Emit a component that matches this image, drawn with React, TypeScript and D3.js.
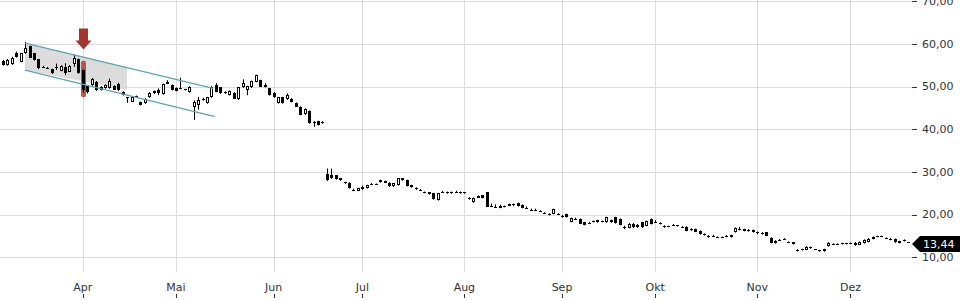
import React from 'react';
import * as d3 from 'd3';

// ---- data -------------------------------------------------------------
const FIRST_DAY = '2024-03-05';
const LAST_DAY = '2024-12-19';
const HOLIDAYS = ['2024-03-29', '2024-04-01', '2024-05-01'];

// candles per month: [open, high, low, close]
const mar: number[][] = [
  [56.0, 56.3, 54.9, 55.1], [55.0, 56.5, 54.9, 56.3], [55.2, 57.0, 55.1, 56.75], [57.8, 58.2, 56.8, 57.0],
  [55.8, 57.9, 55.7, 57.8], [57.8, 60.5, 57.7, 59.1], [59.5, 59.6, 56.7, 56.8], [57.8, 57.9, 56.1, 56.2],
  [56.4, 56.5, 54.1, 54.25], [54.7, 54.9, 54.5, 54.6], [54.45, 54.6, 54.3, 54.35], [54.1, 54.2, 53.0, 53.1],
  [54.6, 55.4, 53.9, 54.7], [53.7, 55.0, 53.6, 54.8], [54.5, 55.5, 52.7, 53.2], [53.5, 55.0, 53.4, 54.8],
  [55.4, 57.5, 54.6, 56.6], [56.4, 56.6, 53.0, 53.1],
];
const apr: number[][] = [
  [53.9, 54.0, 48.6, 49.2], [50.2, 50.3, 48.4, 48.8], [50.35, 52.0, 50.2, 51.9], [51.1, 51.3, 49.0, 49.2],
  [49.96, 50.1, 49.1, 49.2], [49.6, 50.5, 49.5, 50.35], [49.6, 51.9, 49.5, 51.3], [50.2, 50.3, 49.2, 49.3],
  [50.7, 50.9, 49.0, 49.2], [48.8, 48.9, 47.9, 48.0], [47.5, 47.5, 46.2, 47.4], [46.45, 47.7, 46.4, 47.6],
  [47.5, 47.9, 47.4, 47.8], [46.4, 46.5, 45.6, 45.7], [46.1, 47.3, 46.0, 47.2], [47.5, 48.7, 47.4, 48.55],
  [48.4, 49.1, 48.3, 49.0], [49.2, 49.6, 48.0, 48.4], [48.2, 50.7, 48.1, 50.6], [51.1, 51.5, 50.6, 50.7],
  [50.35, 50.5, 49.1, 49.2],
];
const may: number[][] = [
  [49.7, 49.8, 48.9, 49.0], [49.6, 52.1, 49.4, 49.5], [49.4, 49.5, 49.1, 49.2], [48.7, 50.1, 48.6, 50.0],
  [45.3, 46.8, 42.2, 46.4], [45.7, 47.6, 44.6, 46.8], [47.0, 47.4, 46.7, 47.05], [46.1, 47.6, 46.0, 47.5],
  [47.5, 50.1, 47.4, 50.0], [50.4, 50.8, 48.7, 48.8], [49.8, 49.9, 48.3, 48.4], [48.8, 48.9, 48.3, 48.4],
  [48.0, 49.1, 47.9, 49.0], [48.55, 48.7, 47.1, 47.2], [47.0, 49.9, 46.9, 49.8], [49.8, 51.7, 49.7, 50.9],
  [49.2, 50.2, 48.0, 50.1], [49.8, 51.4, 49.7, 51.35], [51.1, 52.8, 51.0, 52.7], [51.5, 51.6, 49.9, 50.0],
  [50.4, 50.8, 49.8, 49.9], [49.6, 49.7, 47.9, 48.0],
];
const jun: number[][] = [
  [48.55, 48.7, 47.4, 47.5], [46.1, 47.6, 46.0, 47.5], [47.5, 47.6, 46.0, 46.1], [47.2, 48.4, 46.9, 48.1],
  [47.2, 47.3, 46.3, 46.4], [46.2, 46.3, 45.2, 45.3], [45.3, 45.4, 43.3, 43.35], [43.6, 44.9, 43.4, 44.7],
  [44.3, 44.4, 41.3, 41.4], [41.75, 41.9, 40.6, 41.7], [41.9, 42.0, 40.9, 41.0], [41.6, 41.9, 41.3, 41.6],
  [29.6, 30.8, 27.9, 28.0], [29.3, 30.8, 28.4, 28.5], [29.2, 29.3, 28.2, 28.3], [28.0, 28.6, 27.9, 28.5],
  [27.7, 27.7, 27.2, 27.7], [27.5, 27.6, 26.1, 26.2], [25.8, 26.1, 25.5, 25.85], [25.6, 26.3, 25.5, 26.2],
];
const jul: number[][] = [
  [25.9, 26.8, 25.8, 26.5], [26.2, 27.0, 26.1, 26.9], [27.1, 27.4, 26.9, 27.15], [27.2, 27.3, 27.1, 27.2],
  [28.1, 28.2, 27.5, 27.6], [27.9, 28.0, 27.4, 27.5], [27.5, 27.6, 26.5, 26.6], [26.6, 27.4, 26.5, 27.3],
  [26.9, 28.6, 26.8, 28.5], [28.5, 28.5, 27.9, 28.2], [28.1, 28.2, 26.6, 26.7], [26.9, 27.0, 26.3, 26.4],
  [26.3, 26.4, 25.8, 25.9], [25.8, 26.0, 25.6, 25.75], [25.3, 25.4, 25.0, 25.1], [25.2, 25.3, 24.7, 24.8],
  [25.0, 25.1, 23.5, 23.6], [23.4, 25.1, 23.3, 25.0], [25.2, 25.6, 25.1, 25.15], [25.3, 25.4, 24.9, 25.0],
  [25.3, 25.4, 24.9, 25.0], [25.2, 25.6, 25.1, 25.15], [25.3, 25.4, 24.9, 25.0],
];
const aug: number[][] = [
  [25.2, 25.3, 24.9, 25.0], [24.0, 24.1, 23.5, 23.8], [22.9, 24.0, 22.8, 23.9], [24.4, 24.5, 23.9, 24.0],
  [24.5, 24.6, 23.8, 23.9], [25.2, 25.3, 21.8, 21.9], [22.1, 22.6, 22.0, 22.05], [21.9, 22.4, 21.8, 21.85],
  [21.6, 22.3, 21.5, 22.0], [21.9, 22.1, 21.7, 21.95], [22.1, 22.6, 22.0, 22.4], [22.5, 22.6, 22.0, 22.2],
  [22.7, 22.8, 21.9, 22.0], [22.3, 22.4, 21.5, 21.6], [21.5, 21.9, 21.4, 21.45], [21.2, 21.4, 21.0, 21.2],
  [21.0, 21.4, 20.9, 20.95], [20.9, 21.0, 20.6, 20.7], [20.5, 20.6, 20.4, 20.5], [20.2, 20.3, 19.8, 19.9],
  [20.2, 21.4, 20.1, 21.3], [20.0, 20.3, 19.9, 20.05],
];
const sep: number[][] = [
  [19.6, 19.9, 19.3, 19.65], [20.1, 20.2, 19.3, 19.4], [18.3, 19.3, 18.2, 19.2], [19.0, 19.3, 18.9, 19.05],
  [19.0, 19.1, 17.8, 17.9], [18.2, 18.3, 17.5, 17.6], [18.0, 18.3, 17.8, 18.05], [18.5, 18.6, 18.2, 18.3],
  [18.7, 18.8, 18.1, 18.2], [18.5, 18.6, 18.2, 18.3], [18.2, 19.5, 18.1, 19.4], [18.7, 18.8, 18.1, 18.2],
  [19.4, 19.5, 17.9, 18.0], [19.0, 19.1, 17.5, 17.6], [16.9, 17.4, 16.6, 17.2], [16.9, 18.0, 16.8, 17.9],
  [17.9, 18.0, 16.9, 17.0], [17.0, 17.8, 16.9, 17.5], [18.2, 18.3, 16.9, 17.0], [17.4, 18.6, 17.3, 18.5],
  [19.0, 19.1, 17.7, 17.8],
];
const oct: number[][] = [
  [18.3, 18.7, 18.2, 18.35], [17.8, 18.2, 17.7, 18.1], [17.4, 17.5, 16.9, 17.0], [17.3, 17.4, 17.2, 17.25],
  [17.6, 17.8, 17.4, 17.55], [17.5, 17.6, 17.2, 17.3], [17.0, 17.3, 16.9, 17.2], [17.2, 17.3, 16.1, 16.2],
  [16.3, 16.8, 16.2, 16.7], [16.6, 16.7, 15.9, 16.0], [16.2, 16.3, 15.3, 15.4], [15.2, 15.6, 15.1, 15.5],
  [15.1, 15.2, 14.6, 14.7], [15.0, 15.3, 14.9, 14.95], [14.8, 14.9, 14.7, 14.8], [14.75, 14.85, 14.65, 14.7],
  [15.1, 15.2, 14.7, 14.8], [14.7, 15.3, 14.6, 15.2], [15.85, 17.0, 15.8, 16.9], [16.5, 17.1, 16.3, 16.6],
  [16.6, 16.7, 16.1, 16.2], [16.1, 16.6, 16.0, 16.5], [16.4, 16.5, 15.8, 15.9],
];
const nov: number[][] = [
  [16.0, 16.05, 15.4, 15.6], [15.4, 15.9, 15.3, 15.7], [15.85, 15.9, 15.0, 15.1], [14.6, 14.7, 13.3, 13.4],
  [13.3, 14.0, 13.2, 13.9], [14.1, 14.3, 14.0, 14.15], [14.3, 14.5, 14.2, 14.35], [13.65, 13.7, 13.5, 13.6],
  [13.5, 13.6, 13.0, 13.1], [11.6, 11.9, 11.4, 11.65], [11.7, 12.0, 11.6, 11.9], [11.8, 12.6, 11.7, 12.5],
  [12.1, 12.5, 12.0, 12.3], [11.85, 11.95, 11.7, 11.8], [11.7, 11.75, 11.3, 11.4], [11.4, 12.0, 11.3, 11.95],
  [12.6, 13.5, 12.5, 13.4], [13.1, 13.3, 13.0, 13.1], [13.2, 13.25, 12.9, 13.0], [13.1, 13.4, 13.0, 13.3],
  [13.3, 13.35, 13.0, 13.1],
];
const dec: number[][] = [
  [13.4, 13.45, 13.1, 13.2], [13.4, 13.6, 12.7, 12.9], [13.0, 13.7, 12.9, 13.6], [13.3, 14.2, 13.2, 14.1],
  [13.6, 14.5, 13.5, 14.4], [14.3, 14.9, 14.2, 14.8], [15.0, 15.05, 14.7, 14.9], [14.95, 15.05, 14.9, 14.95],
  [14.6, 14.65, 14.3, 14.4], [14.1, 14.5, 14.0, 14.3], [14.2, 14.4, 13.4, 13.5], [13.3, 13.85, 13.25, 13.8],
  [13.8, 14.2, 13.7, 14.0], [13.5, 13.55, 13.4, 13.44],
];

const MONTH_LABELS = ['Apr', 'Mai', 'Jun', 'Jul', 'Aug', 'Sep', 'Okt', 'Nov', 'Dez'];
const MONTH_NUMBERS = [3, 4, 5, 6, 7, 8, 9, 10, 11];
const Y_TICKS = [10, 20, 30, 40, 50, 60, 70];
const LAST_PRICE = 13.44;

// annotations in (trading-day index, price)
const CHANNEL_UPPER: [number, number][] = [[4.99, 60.2], [47.4, 49.6]];
const CHANNEL_LOWER: [number, number][] = [[4.99, 53.87], [47.8, 42.95]];
const SHADE: [number, number][] = [[4.99, 60.2], [27.97, 54.46], [27.97, 49.2], [4.99, 53.87]];
const EVENT_DATE = '2024-04-02';
const EVENT_BAR = [56.07, 47.5];
const EVENT_ARROW = [63.6, 58.7];

// ---- chart ------------------------------------------------------------
const W = 960;
const H = 300;
const PLOT_RIGHT = 912;
const FONT = '"DejaVu Sans", sans-serif';

export default function App() {
  const parse = d3.utcParse('%Y-%m-%d');
  const fmt = d3.utcFormat('%Y-%m-%d');
  const days = d3.utcDay
    .range(parse(FIRST_DAY)!, d3.utcDay.offset(parse(LAST_DAY)!, 1))
    .filter((d) => d.getUTCDay() !== 0 && d.getUTCDay() !== 6 && !HOLIDAYS.includes(fmt(d)));
  const rows = [...mar, ...apr, ...may, ...jun, ...jul, ...aug, ...sep, ...oct, ...nov, ...dec];
  const candles = rows.map((r, i) => ({ key: fmt(days[i]), date: days[i], o: r[0], h: r[1], l: r[2], c: r[3] }));

  const x = d3.scaleBand<string>().domain(candles.map((d) => d.key)).range([0, 911]).padding(0.3);
  const cx = (k: string) => (x(k) as number) + x.bandwidth() / 2;
  const xi = d3.scaleLinear().domain([0, candles.length - 1]).range([cx(candles[0].key), cx(candles[candles.length - 1].key)]);
  const y = d3.scaleLinear().domain([10, 70]).range([257.3, 1.3]);

  const monthTicks = MONTH_NUMBERS.map((m, i) => {
    const d = candles.find((c) => c.date.getUTCMonth() === m)!;
    return { label: MONTH_LABELS[i], x: cx(d.key) };
  });

  const line = d3.line<[number, number]>().x((d) => xi(d[0])).y((d) => y(d[1]));
  const ex = Math.round(cx(EVENT_DATE)) + 0.5;
  const yLast = y(LAST_PRICE) + 1.5;

  return (
    <svg width={W} height={H} style={{ position: 'absolute', left: 0, top: 0, background: '#fff' }} fontFamily={FONT}>
      {/* horizontal grid */}
      {Y_TICKS.map((t) => (
        <line key={'hg' + t} x1={0} x2={PLOT_RIGHT} y1={Math.round(y(t)) + 0.5} y2={Math.round(y(t)) + 0.5} stroke="#dcdcdc" />
      ))}
      {/* vertical grid */}
      {monthTicks.map((m) => (
        <line key={'vg' + m.label} x1={Math.round(m.x) + 0.5} x2={Math.round(m.x) + 0.5} y1={0} y2={272} stroke="#dcdcdc" />
      ))}

      {/* shaded zone */}
      <path d={line(SHADE)! + 'Z'} fill="#d6d6d6" opacity={0.85} />

      {/* event highlight bar */}
      <rect x={ex - 2.5} y={y(EVENT_BAR[0])} width={5} height={y(EVENT_BAR[1]) - y(EVENT_BAR[0])} rx={2} fill="#b0483f" opacity={0.9} />

      {/* candles */}
      {candles.map((d) => {
        const xc = Math.round(cx(d.key));
        const top = Math.round(y(Math.max(d.o, d.c)));
        const bot = Math.round(y(Math.min(d.o, d.c)));
        const up = d.c > d.o;
        const bh = Math.max(1, bot - top);
        return (
          <g key={d.key}>
            <line x1={xc + 0.5} x2={xc + 0.5} y1={y(d.h)} y2={y(d.l)} stroke="#000" strokeWidth={1} />
            {up && bh >= 2 ? (
              <rect x={xc - 0.5} y={top + 0.5} width={2} height={bh - 1} fill="#fff" stroke="#000" strokeWidth={1} />
            ) : (
              <rect x={xc - 1} y={top} width={3} height={bh} fill="#000" />
            )}
          </g>
        );
      })}

      {/* trend channel */}
      <path d={line(CHANNEL_UPPER)!} stroke="#5ba6ae" strokeWidth={1.3} fill="none" />
      <path d={line(CHANNEL_LOWER)!} stroke="#5ba6ae" strokeWidth={1.3} fill="none" />

      {/* event arrow */}
      <path
        d={`M${ex - 4.5},${y(EVENT_ARROW[0])}H${ex + 4.5}V${y(EVENT_ARROW[0]) + 12}H${ex + 8}L${ex},${y(EVENT_ARROW[1])}L${ex - 8},${y(EVENT_ARROW[0]) + 12}H${ex - 4.5}Z`}
        fill="#a3352e"
      />

      {/* y axis */}
      {Y_TICKS.map((t) => (
        <g key={'yt' + t}>
          <line x1={912} x2={917} y1={Math.round(y(t)) + 0.5} y2={Math.round(y(t)) + 0.5} stroke="#333" />
          <text x={922} y={y(t)} dy="0.35em" fontSize={11} fill="#333">
            {d3.format('.2f')(t).replace('.', ',')}
          </text>
        </g>
      ))}

      {/* x axis */}
      {monthTicks.map((m) => (
        <g key={'xt' + m.label}>
          <text x={m.x} y={291} textAnchor="middle" fontSize={11} fill="#333">
            {m.label}
          </text>
          <line x1={Math.round(m.x) + 0.5} x2={Math.round(m.x) + 0.5} y1={294} y2={298} stroke="#333" />
        </g>
      ))}

      {/* last price label */}
      <path d={`M912,${yLast}L920,${yLast - 8}H960V${yLast + 8}H920Z`} fill="#000" />
      <text x={923} y={yLast} dy="0.35em" fontSize={11} fill="#fff">
        {d3.format('.2f')(LAST_PRICE).replace('.', ',')}
      </text>
    </svg>
  );
}
